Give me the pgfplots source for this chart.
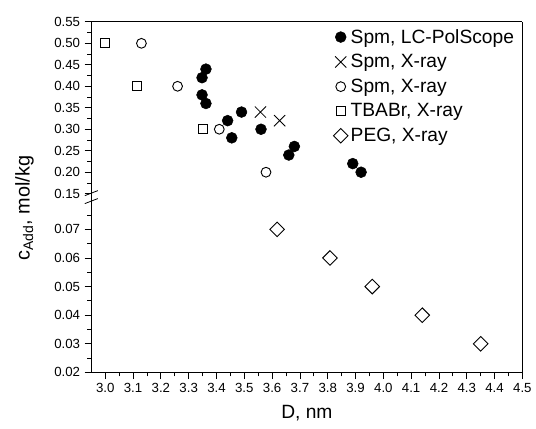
\documentclass[border=0pt]{standalone}
\usepackage{pgfplots}
\pgfplotsset{compat=1.18}
\usepackage{fontspec}
\setmainfont{Liberation Sans}

% 1 px of the reference = 0.75pt
\pgfplotsset{
  brk/.style={
    width=325.5pt, scale only axis,
    xmin=2.95, xmax=4.5,
    axis line style={line width=0.9pt, -},
    every outer x axis line/.append style={-},
    every outer y axis line/.append style={-},
    tick style={line width=0.6pt, black},
    tick align=outside,
    major tick length=5pt, minor tick length=3pt,
    ticklabel style={font=\fontsize{10}{12}\selectfont},
    /pgf/number format/assume math mode=true,
    scaled y ticks=false, scaled x ticks=false,
    yticklabel style={/pgf/number format/fixed, /pgf/number format/fixed zerofill,
                      /pgf/number format/precision=2},
    ytick pos=left,
    clip=false,
  },
  dot/.style={only marks, black, mark=*, mark size=4.1pt, mark options={fill=black}},
  crs/.style={only marks, black, mark=x, mark size=6pt, mark options={line width=0.6pt}},
  ring/.style={only marks, black, mark=o, mark size=3.7pt, mark options={line width=0.7pt}},
  sq/.style={only marks, black, mark=square, mark size=3.5pt, mark options={line width=0.7pt}},
  dia/.style={only marks, black, mark=square, mark size=3.9pt, mark options={rotate=45, line width=0.7pt}},
}

\begin{document}
\begin{tikzpicture}
\path (-69pt,-42pt) rectangle (333pt,281.25pt);

% lower part: 0.02 -- 0.08
\begin{axis}[brk, name=lo, at={(0,0)}, anchor=south west,
  height=133.125pt, ymin=0.02, ymax=0.0816,
  axis x line*=bottom, axis y line*=box,
  xtick={3.0,3.1,3.2,3.3,3.4,3.5,3.6,3.7,3.8,3.9,4.0,4.1,4.2,4.3,4.4,4.5},
  minor x tick num=1,
  xticklabel style={/pgf/number format/fixed, /pgf/number format/fixed zerofill,
                    /pgf/number format/precision=1},
  ytick={0.02,0.03,0.04,0.05,0.06,0.07},
  minor ytick={0.025,0.035,0.045,0.055,0.065,0.075},
  xlabel={D, nm},
  xlabel style={font=\fontsize{14.5}{16}\selectfont, yshift=-2pt},
]
\addplot[dia] coordinates {
  (3.618,0.07) (3.808,0.06) (3.96,0.05) (4.14,0.04) (4.35,0.03)
};
\end{axis}

% upper part: 0.15 -- 0.55
\begin{axis}[brk, name=up, at={(0,133.125pt)}, anchor=south west,
  height=131.625pt, ymin=0.1443, ymax=0.55,
  axis x line*=top, axis y line*=box,
  xtick=\empty,
  ytick={0.15,0.20,0.25,0.30,0.35,0.40,0.45,0.50,0.55},
  minor y tick num=1,
  legend style={draw=none, fill=none, at={(0.561,0.975)}, anchor=north west,
                font=\fontsize{14.5}{16}\selectfont, inner sep=0pt, row sep=3pt},
  legend cell align=left,
]
\addplot[dot] coordinates {
  (3.348,0.42) (3.362,0.44) (3.348,0.38) (3.362,0.36) (3.44,0.32) (3.49,0.34)
  (3.455,0.28) (3.56,0.30) (3.66,0.24) (3.68,0.26) (3.89,0.22) (3.92,0.20)
};
\addlegendentry{Spm, LC-PolScope}
\addplot[crs] coordinates {(3.558,0.34) (3.627,0.32)};
\addlegendentry{Spm, X-ray}
\addplot[ring] coordinates {(3.13,0.50) (3.26,0.40) (3.41,0.30) (3.578,0.20)};
\addlegendentry{Spm, X-ray}
\addplot[sq] coordinates {(3.0,0.50) (3.115,0.40) (3.35,0.30)};
\addlegendentry{TBABr, X-ray}
\addlegendimage{dia}
\addlegendentry{PEG, X-ray}
\end{axis}

% axis break marks on the left spine
\draw[line width=0.6pt] (-4.9pt,133.5pt) -- (4.9pt,137.3pt);
\draw[line width=0.6pt] (-4.9pt,127.5pt) -- (4.9pt,131.3pt);

\node[rotate=90, font=\fontsize{15}{16}\selectfont] at (-50.5pt,124pt)
  {c\textsubscript{Add}, mol/kg};
\end{tikzpicture}
\end{document}
